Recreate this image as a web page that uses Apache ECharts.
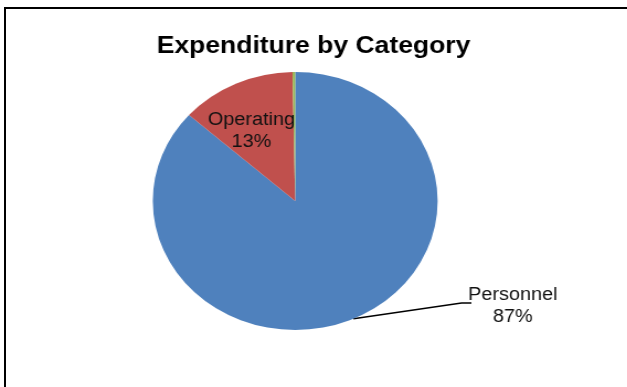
<!DOCTYPE html>
<html><head><meta charset="utf-8">
<script src="https://cdn.jsdelivr.net/npm/echarts@6/dist/echarts.min.js"></script>
<style>
html,body{margin:0;padding:0;width:627px;height:387px;overflow:hidden;background:#fff;}
#frame{position:absolute;left:4px;top:7px;width:700px;height:500px;border:2px solid #000;box-sizing:border-box;}
#chart{position:absolute;left:0;top:0;width:568px;height:387px;transform:scaleX(1.104);transform-origin:0 0;}
</style></head><body>
<div id="frame"></div>
<div id="chart"></div>
<script>
const titleText = 'Expenditure by Category';
const categories = ['Personnel', 'Operating', 'Other'];
const values = [86.6, 13.1, 0.3];
const colors = ['#4F81BD', '#C0504D', '#9BBB59'];
const labelShown = [true, true, false];

const chart = echarts.init(document.getElementById('chart'), null, {renderer: 'canvas'});
const labelFont = "'Liberation Sans Narrow', 'Arial Narrow', 'Liberation Sans', sans-serif";

const data = categories.map((c, i) => ({
  name: c,
  value: values[i],
  itemStyle: {color: colors[i]},
  label: {show: labelShown[i], position: i === 0 ? 'outside' : 'inside'},
  labelLine: {show: i === 0}
}));

chart.setOption({
  animation: false,
  title: {
    text: titleText,
    left: 'center',
    top: 34,
    padding: [0, 0, 0, 4],
    textStyle: {fontFamily: "'Liberation Sans', Arial, sans-serif", fontWeight: 'bold', fontSize: 24, color: '#000'}
  },
  series: [{
    type: 'pie',
    center: [267.4, 201],
    radius: 129,
    startAngle: 90,
    clockwise: true,
    avoidLabelOverlap: false,
    percentPrecision: 0,
    emphasis: {disabled: true},
    itemStyle: {borderWidth: 0},
    label: {
      formatter: '{b}\n{d}%',
      fontFamily: labelFont,
      fontSize: 18,
      lineHeight: 22,
      color: '#111',
      align: 'center'
    },
    labelLine: {
      length: 20, length2: 10,
      lineStyle: {color: '#000', width: 1.5}
    },
    labelLayout: function (p) {
      if (p.dataIndex === 0) {
        const start = (p.labelLinePoints && p.labelLinePoints[0]) || [321, 320];
        return {
          x: 464.5, y: 306, align: 'center', verticalAlign: 'middle',
          labelLinePoints: [start, [418, 303], [427, 303]]
        };
      }
      if (p.dataIndex === 1) {
        return {x: 227.7, y: 131, align: 'center', verticalAlign: 'middle'};
      }
      return {};
    },
    data: data
  }]
});
</script>
</body></html>
